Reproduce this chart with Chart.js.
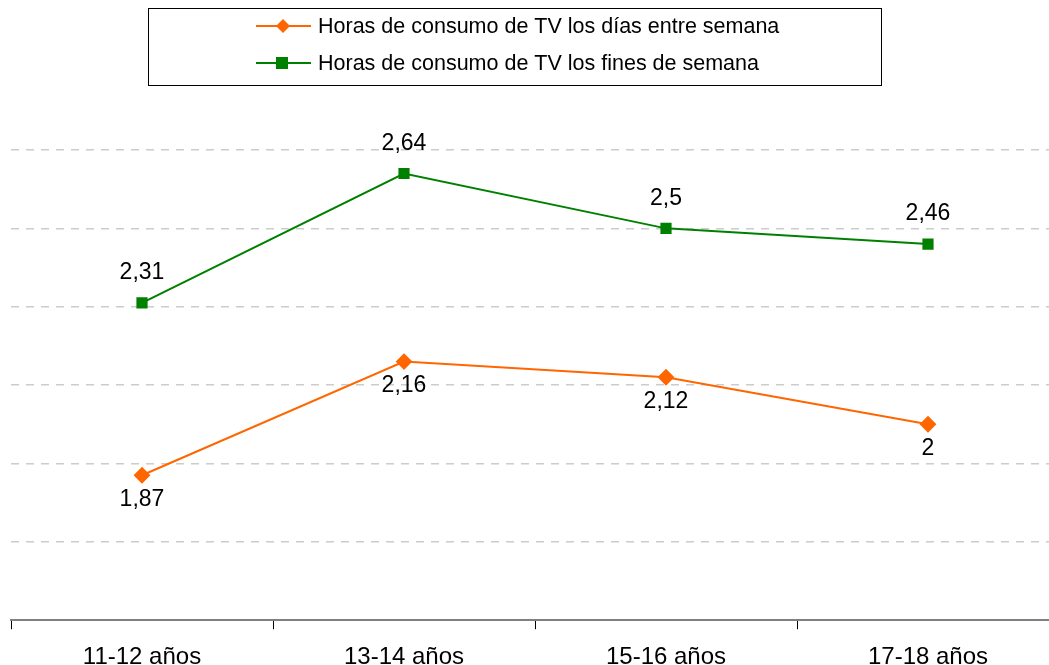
<!DOCTYPE html>
<html>
<head>
<meta charset="utf-8">
<script src="https://cdn.jsdelivr.net/npm/chart.js@4/dist/chart.umd.min.js"></script>
<style>
  html, body { margin: 0; padding: 0; background: #fff; overflow: hidden; }
  canvas { display: block; }
</style>
</head>
<body>
<canvas id="tvChart" width="1070" height="690"></canvas>
<script>
var categories = ['11-12 años', '13-14 años', '15-16 años', '17-18 años'];
var weekdayHours = [1.87, 2.16, 2.12, 2.0];
var weekendHours = [2.31, 2.64, 2.5, 2.46];
var weekdayLabel = 'Horas de consumo de TV los días entre semana';
var weekendLabel = 'Horas de consumo de TV los fines de semana';

var FONT = '"Liberation Sans", Arial, sans-serif';

function fmt(v) {
  return String(v).replace('.', ',');
}

// value labels: green above the points, orange below
var valueLabels = {
  id: 'valueLabels',
  afterDatasetsDraw: function(chart) {
    var ctx = chart.ctx;
    ctx.save();
    ctx.font = '23px ' + FONT;
    ctx.fillStyle = '#000';
    ctx.textAlign = 'center';
    ctx.textBaseline = 'middle';
    chart.data.datasets.forEach(function(ds, i) {
      var meta = chart.getDatasetMeta(i);
      meta.data.forEach(function(pt, j) {
        var dy = ds.labelBelow ? 24 : -30;
        ctx.fillText(fmt(ds.data[j]), pt.x, pt.y + dy);
      });
    });
    ctx.restore();
  }
};

// boxed legend like the original
var boxLegend = {
  id: 'boxLegend',
  afterDraw: function(chart) {
    var ctx = chart.ctx;
    ctx.save();
    ctx.strokeStyle = '#000';
    ctx.lineWidth = 1;
    ctx.strokeRect(148.5, 8.5, 733, 77);
    ctx.font = '21.5px ' + FONT;
    ctx.textBaseline = 'middle';
    ctx.textAlign = 'left';
    var rows = [26, 63];
    chart.data.datasets.forEach(function(ds, i) {
      var y = rows[i];
      ctx.strokeStyle = ds.borderColor;
      ctx.lineWidth = 2;
      ctx.beginPath();
      ctx.moveTo(256, y);
      ctx.lineTo(311, y);
      ctx.stroke();
      ctx.fillStyle = ds.borderColor;
      ctx.beginPath();
      if (ds.pointStyle === 'rectRot') {
        ctx.moveTo(283, y - 7);
        ctx.lineTo(290, y);
        ctx.lineTo(283, y + 7);
        ctx.lineTo(276, y);
        ctx.closePath();
        ctx.fill();
      } else {
        ctx.fillRect(276, y - 6, 12, 12);
      }
      ctx.fillStyle = '#000';
      ctx.fillText(ds.label, 318, y + 1);
    });
    ctx.restore();
  }
};

new Chart(document.getElementById('tvChart'), {
  type: 'line',
  data: {
    labels: categories,
    datasets: [{
      label: weekdayLabel,
      data: weekdayHours,
      borderColor: '#FF6600',
      backgroundColor: '#FF6600',
      borderWidth: 2,
      pointStyle: 'rectRot',
      pointRadius: 7,
      pointHoverRadius: 7,
      tension: 0,
      labelBelow: true
    }, {
      label: weekendLabel,
      data: weekendHours,
      borderColor: '#008000',
      backgroundColor: '#008000',
      borderWidth: 2,
      pointStyle: 'rect',
      pointRadius: 6.5,
      pointHoverRadius: 6.5,
      tension: 0,
      labelBelow: false
    }]
  },
  options: {
    responsive: false,
    animation: false,
    layout: { padding: { left: 11, right: 11, top: 150, bottom: 4 } },
    plugins: {
      legend: { display: false },
      tooltip: { enabled: false }
    },
    scales: {
      x: {
        offset: true,
        grid: {
          offset: true,
          drawOnChartArea: false,
          drawTicks: true,
          tickLength: 9,
          tickColor: '#000'
        },
        border: { display: true, color: '#808080', width: 2 },
        ticks: {
          color: '#000',
          font: { family: FONT, size: 24 },
          padding: 14,
          maxRotation: 0
        }
      },
      y: {
        min: 1.5,
        max: 2.7,
        ticks: { display: false, stepSize: 0.2 },
        border: { display: false, dash: [8, 7] },
        grid: {
          drawTicks: false,
          lineWidth: 1.5,
          color: function(c) {
            return c.tick && c.tick.value <= 1.5 ? 'rgba(0,0,0,0)' : '#cccccc';
          }
        }
      }
    }
  },
  plugins: [valueLabels, boxLegend]
});
</script>
</body>
</html>
